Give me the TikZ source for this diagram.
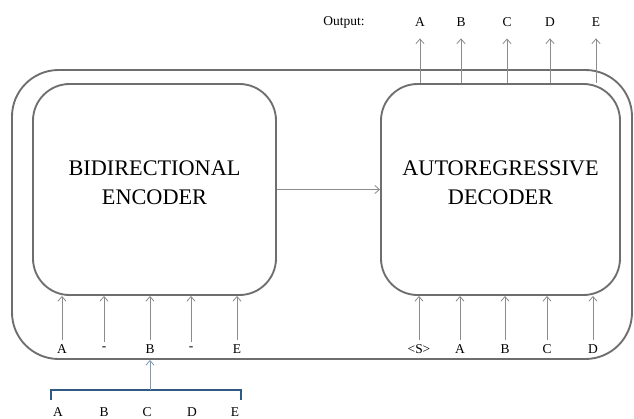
\documentclass[tikz,border=0pt]{standalone}
\usepackage{fontspec}
\setmainfont{Liberation Serif}
\usetikzlibrary{arrows.meta}
\definecolor{boxgray}{HTML}{6E6E6E}
\definecolor{arrgray}{HTML}{8C8C8C}
\definecolor{bracketblue}{HTML}{2E5A84}
\definecolor{linkblue}{HTML}{7E9CB8}
\begin{document}
\begin{tikzpicture}[
    x=0.03cm, y=-0.03cm,
    frame/.style = {rectangle, draw=boxgray, line width=1.6pt, rounded corners=1.4cm, minimum width=18.6cm, minimum height=8.67cm},
    block/.style = {rectangle, draw=boxgray, line width=1.6pt, rounded corners=1.1cm, minimum height=6.33cm},
    title/.style = {align=center, font=\fontsize{19}{25}\selectfont},
    tok/.style = {inner sep=1pt, font=\fontsize{11.5}{13}\selectfont},
    arrow/.style = {draw=arrgray, line width=0.7pt, -{Straight Barb[length=4pt,width=7pt]}}
]
    \useasboundingbox (0,0) rectangle (634,419);

    \node[frame] (frame) at (322,214.5) {};
    \node[block, minimum width=7.29cm] (enc) at (154.5,189.5) {};
    \node[block, minimum width=7.17cm] (dec) at (500.5,189.5) {};
    \node[title] (encTxt) at (154.5,183) {BIDIRECTIONAL\\ENCODER};
    \node[title] (decTxt) at (500.5,183) {AUTOREGRESSIVE\\DECODER};

    % encoder inputs (masked)
    \node[tok] (eA) at (62,349) {A};
    \node[tok] (eM1) at (104,349) {-};
    \node[tok] (eB) at (150,349) {B};
    \node[tok] (eM2) at (191,349) {-};
    \node[tok] (eE) at (237,349) {E};

    % decoder inputs (shifted right)
    \node[tok] (dS) at (419,349) {<S>};
    \node[tok] (dA) at (460,349) {A};
    \node[tok] (dB) at (505,349) {B};
    \node[tok] (dC) at (547,349) {C};
    \node[tok] (dD) at (593,349) {D};

    % decoder outputs
    \node[tok] (outlbl) at (344,22) {Output:};
    \node[tok] (oA) at (420,22) {A};
    \node[tok] (oB) at (461,22) {B};
    \node[tok] (oC) at (507,22) {C};
    \node[tok] (oD) at (550,22) {D};
    \node[tok] (oE) at (596,22) {E};

    % original sequence
    \node[tok] (sA) at (58,412) {A};
    \node[tok] (sB) at (104,412) {B};
    \node[tok] (sC) at (147,412) {C};
    \node[tok] (sD) at (192,412) {D};
    \node[tok] (sE) at (235,412) {E};

    \coordinate (brL) at (51,400);
    \coordinate (brR) at (241,400);
    \coordinate (brace) at (150,390);
    \draw[bracketblue, line width=0.9pt] (brL) -- (brL |- brace) -- (brR |- brace) -- (brR);
    \path[arrow, draw=linkblue] (brace) -- (brace |- frame.south);

    \path[arrow] ([yshift=3pt]eA.north) -- (eA |- enc.south);
    \path[arrow] ([yshift=3pt]eM1.north) -- (eM1 |- enc.south);
    \path[arrow] ([yshift=3pt]eB.north) -- (eB |- enc.south);
    \path[arrow] ([yshift=3pt]eM2.north) -- (eM2 |- enc.south);
    \path[arrow] ([yshift=3pt]eE.north) -- (eE |- enc.south);

    \path[arrow] ([yshift=3pt]dS.north) -- (dS |- dec.south);
    \path[arrow] ([yshift=3pt]dA.north) -- (dA |- dec.south);
    \path[arrow] ([yshift=3pt]dB.north) -- (dB |- dec.south);
    \path[arrow] ([yshift=3pt]dC.north) -- (dC |- dec.south);
    \path[arrow] ([yshift=3pt]dD.north) -- (dD |- dec.south);

    \path[arrow] (oA |- dec.north) -- ([yshift=-9pt]oA.south);
    \path[arrow] (oB |- dec.north) -- ([yshift=-9pt]oB.south);
    \path[arrow] (oC |- dec.north) -- ([yshift=-9pt]oC.south);
    \path[arrow] (oD |- dec.north) -- ([yshift=-9pt]oD.south);
    \path[arrow] (oE |- dec.north) -- ([yshift=-9pt]oE.south);

    \path[arrow] (enc) -- (dec);
\end{tikzpicture}
\end{document}
